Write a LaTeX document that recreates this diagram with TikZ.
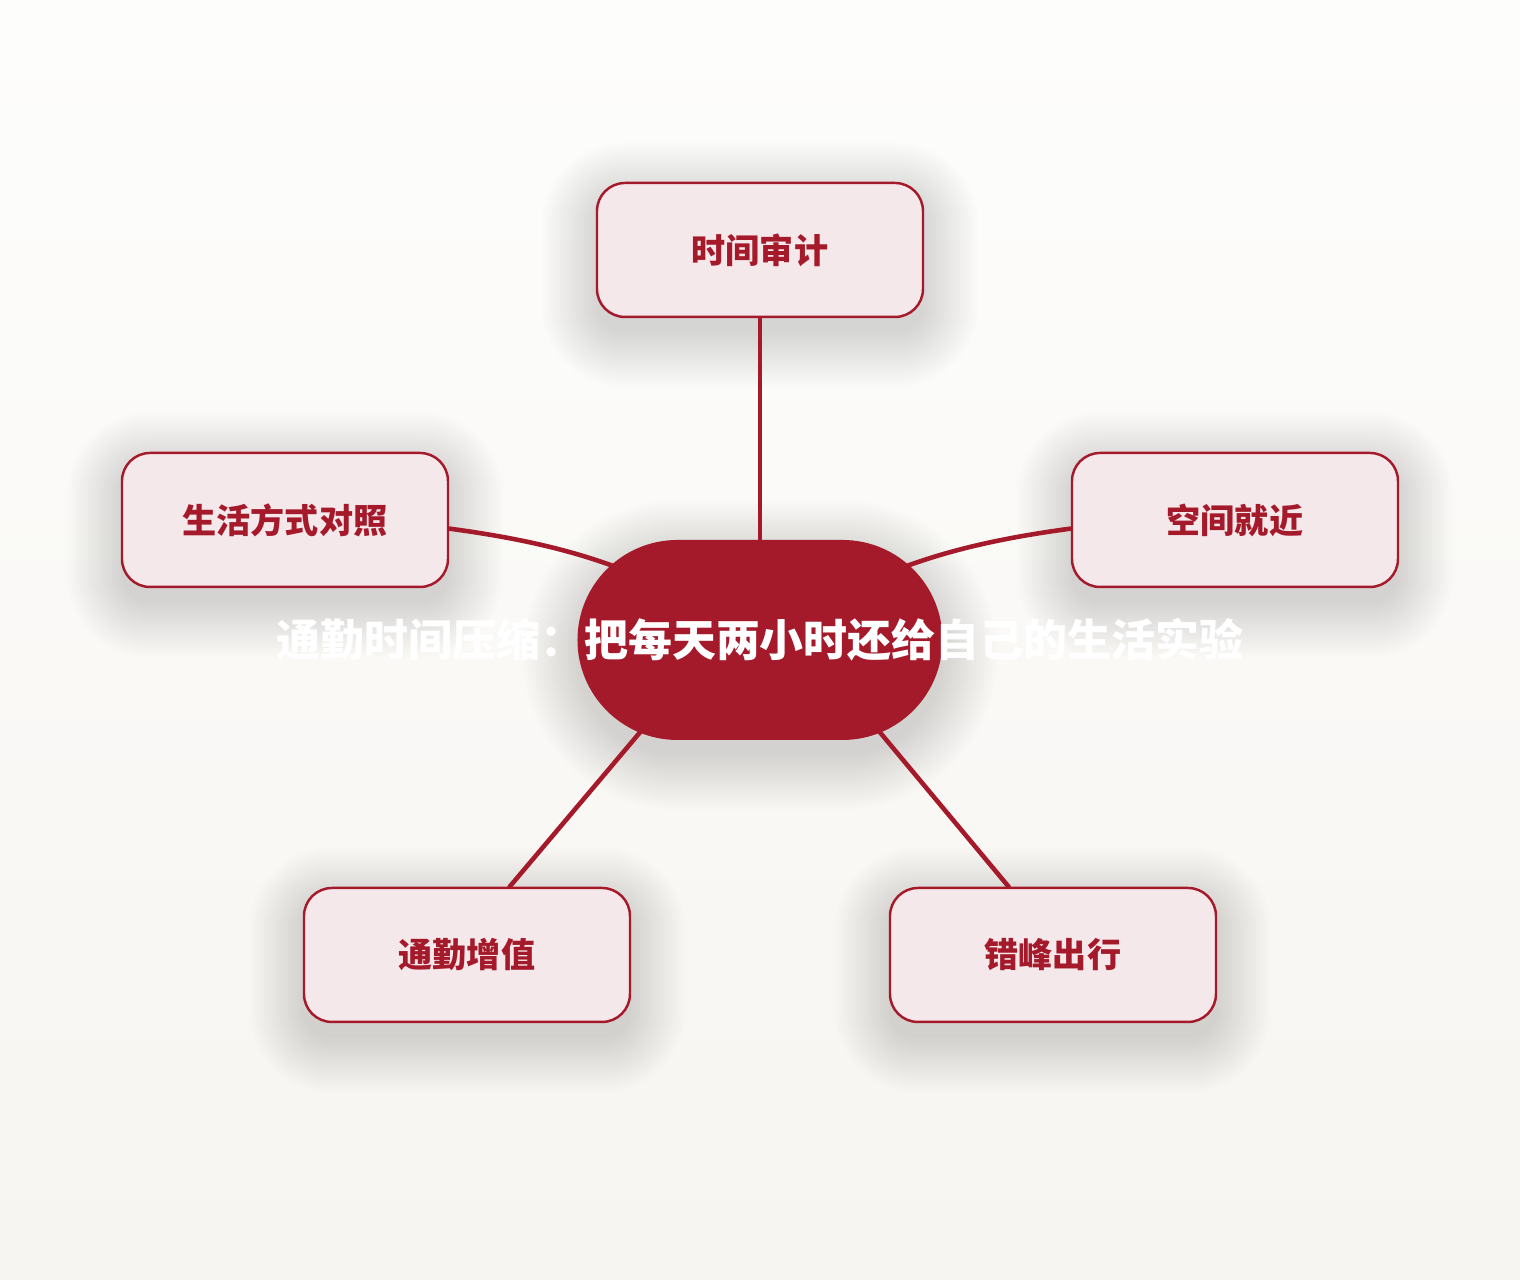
\documentclass[tikz,border=0pt]{standalone}
\usepackage{fontspec}
\setmainfont{Noto Sans CJK SC}
\usepackage{tikz}
\pgfdeclarelayer{bglayer}
\pgfdeclarelayer{shadowlayer}
\pgfdeclarelayer{edgelayer}
\pgfdeclarelayer{nodelayer}
\pgfsetlayers{bglayer,shadowlayer,edgelayer,nodelayer,main}
\definecolor{hubred}{HTML}{A51A2A}
\definecolor{petal}{HTML}{F4E8EB}
\tikzstyle{hub}=[rectangle,rounded corners=1cm,fill=hubred,minimum width=3.65cm,minimum height=2cm,inner sep=0pt,text=white,font=\fontsize{12.5pt}{15pt}\selectfont\bfseries]
\tikzstyle{topic}=[rectangle,rounded corners=0.28cm,fill=petal,draw=hubred,line width=0.7pt,minimum width=3.26cm,minimum height=1.34cm,text=hubred,font=\fontsize{9.7pt}{12pt}\selectfont\bfseries]
\tikzstyle{link}=[draw=hubred,line width=1.3pt,line cap=round]
\tikzstyle{haze}=[fill=black,opacity=0.0075]

\begin{document}
\begin{tikzpicture}
	\begin{pgfonlayer}{bglayer}
		\shade [top color={rgb,255:red,253;green,253;blue,252},bottom color={rgb,255:red,247;green,245;blue,241}] (-7.6, 6.4) rectangle (7.6, -6.4);
	\end{pgfonlayer}
	\useasboundingbox (-7.6, 6.4) rectangle (7.6, -6.4);
	\begin{pgfonlayer}{nodelayer}
		\node [style=hub] (0) at (0, 0) {\makebox[0pt]{\raisebox{-0.03cm}{通勤时间压缩：把每天两小时还给自己的生活实验}}};
		\node [style=topic] (1) at (0, 3.9) {时间审计};
		\node [style=topic] (2) at (-4.75, 1.2) {生活方式对照};
		\node [style=topic] (3) at (4.75, 1.2) {空间就近};
		\node [style=topic] (4) at (-2.93, -3.15) {通勤增值};
		\node [style=topic] (5) at (2.93, -3.15) {错峰出行};
	\end{pgfonlayer}
	\coordinate (h4) at (-0.42, 0);
	\coordinate (h5) at (0.43, 0);
	% soft shadows
	\begin{pgfonlayer}{shadowlayer}
		\foreach \d in {0.0,0.03,...,0.54} {
			\foreach \n in {1,...,5}
				\fill [style=haze,rounded corners=0.28cm+\d cm] ([shift={(-\d,-\d-0.15)}]\n.south west) rectangle ([shift={(\d,\d-0.15)}]\n.north east);
			\fill [style=haze,rounded corners=1cm+\d cm] ([shift={(-\d,-\d-0.15)}]0.south west) rectangle ([shift={(\d,\d-0.15)}]0.north east);
		}
	\end{pgfonlayer}
	\begin{pgfonlayer}{edgelayer}
		\draw [style=link] (1) to (0.center);
		\draw [style=link] (2.357) to[bend left=12] (0.center);
		\draw [style=link] (3.183) to[bend right=12] (0.center);
		\draw [style=link] (4.58) to (h4);
		\draw [style=link] (5.123) to (h5);
	\end{pgfonlayer}
\end{tikzpicture}
\end{document}
